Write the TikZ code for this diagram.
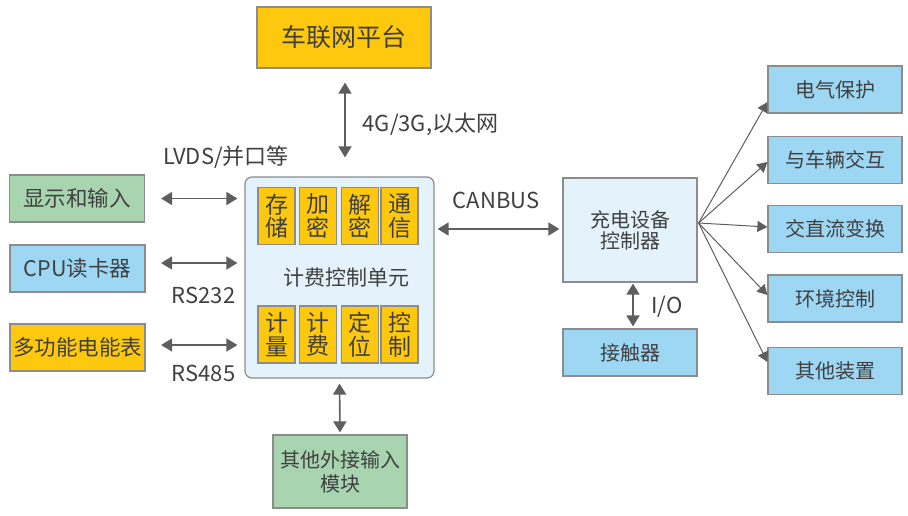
\documentclass[tikz,border=0pt]{standalone}
\usepackage{fontspec}
\setmainfont{Noto Sans CJK SC}
\usetikzlibrary{arrows.meta}
\definecolor{cyel}{HTML}{FDC80E}
\definecolor{cgrn}{HTML}{A8D5B0}
\definecolor{cblu}{HTML}{9DD7F4}
\definecolor{clbl}{HTML}{E4F3FB}
\definecolor{cbrd}{HTML}{8C8C8C}
\definecolor{ctxt}{HTML}{404040}
\definecolor{carr}{HTML}{5E5E5E}
\tikzset{
  box/.style={draw=cbrd, line width=1.2pt, inner sep=0pt, text=ctxt, align=center},
  sbox/.style={box, fill=cyel, minimum width=37pt, minimum height=57pt, font=\fontsize{23}{23.5}\selectfont},
  rbox/.style={box, fill=cblu, minimum width=134pt, minimum height=47pt, font=\fontsize{20}{21}\selectfont},
  lbox/.style={box, minimum width=135pt, minimum height=47pt, font=\fontsize{21.5}{22}\selectfont},
  lab/.style={text=ctxt, font=\fontsize{22}{24}\selectfont, inner sep=0pt},
  darr/.style={carr, line width=1.6pt, {Triangle[width=13pt,length=11pt]}-{Triangle[width=13pt,length=11pt]}},
  farr/.style={carr, line width=1pt, -{Triangle[width=11pt,length=10pt]}}
}
\begin{document}
\begin{tikzpicture}[x=1pt,y=-1pt]
\useasboundingbox (0,0) rectangle (908,515);
% top platform
\node[box, fill=cyel, minimum width=174pt, minimum height=61pt, font=\fontsize{25}{27}\selectfont] (plat) at (344,37.5) {车联网平台};
% central unit
\node[box, fill=clbl, rounded corners=7pt, minimum width=189pt, minimum height=201pt] (cu) at (339.5,277.5) {};
\node[lab, font=\fontsize{21}{22}\selectfont] (cul) at (346,278) {计费控制单元};
\node[sbox] (s1) at (276.5,216) {存\\储};
\node[sbox] (s2) at (318,216) {加\\密};
\node[sbox] (s3) at (360,216) {解\\密};
\node[sbox] (s4) at (399.5,216) {通\\信};
\node[sbox] (b1) at (276.5,334.5) {计\\量};
\node[sbox] (b2) at (318,334.5) {计\\费};
\node[sbox] (b3) at (360,334.5) {定\\位};
\node[sbox] (b4) at (399.5,334.5) {控\\制};
% left boxes
\node[lbox, fill=cgrn] (disp) at (77,198.5) {显示和输入};
\node[lbox, fill=cblu] (cpu) at (77.5,268.5) {CPU读卡器};
\node[lbox, fill=cyel] (meter) at (77.5,347.5) {多功能电能表};
% bottom
\node[box, fill=cgrn, minimum width=134pt, minimum height=73pt, font=\fontsize{20}{24}\selectfont] (ext) at (340,471.5) {其他外接输入\\模块};
% charging controller
\node[box, fill=clbl, minimum width=134pt, minimum height=104pt, font=\fontsize{20}{21}\selectfont] (ctrl) at (630,230) {充电设备\\控制器};
\node[rbox] (cont) at (630,352.5) {接触器};
% right boxes
\node[rbox] (r1) at (835,89.5) {电气保护};
\node[rbox] (r2) at (835,160) {与车辆交互};
\node[rbox] (r3) at (835,229) {交直流变换};
\node[rbox] (r4) at (835,298.5) {环境控制};
\node[rbox] (r5) at (835,371) {其他装置};
% labels
\node[lab] (l4g) at (430.5,124) {4G/3G,以太网};
\node[lab] (llv) at (226,157) {LVDS/并口等};
\node[lab] (l232) at (203.5,295) {RS232};
\node[lab] (l485) at (203.5,373) {RS485};
\node[lab] (lcan) at (496,200) {CANBUS};
\node[lab] (lio) at (667,307) {I/O};
% connectors
\draw[darr, shorten <=14pt, shorten >=19pt] ([xshift=1pt]plat.south) -- ([xshift=5.5pt]cu.north);
\draw[darr, shorten <=16pt, shorten >=7pt] (disp.east) -- (disp.east -| cu.west);
\draw[darr, shorten <=15.5pt, shorten >=7pt] ([yshift=5.5pt]cpu.east) -- ([yshift=5.5pt]cpu.east -| cu.west);
\draw[darr, shorten <=15.5pt, shorten >=7pt] ([yshift=2.5pt]meter.east) -- ([yshift=2.5pt]meter.east -| cu.west);
\draw[darr, shorten <=3pt, shorten >=3pt] ([yshift=1pt]ctrl.west -| cu.east) -- ([yshift=1pt]ctrl.west);
\draw[darr, shorten <=1pt, shorten >=2pt] ([xshift=3pt]ctrl.south) -- ([xshift=3pt]cont.north);
\draw[darr, shorten <=5pt, shorten >=2pt] (cu.south) -- (ext.north);
\coordinate (fan) at ([yshift=7pt,xshift=1pt]ctrl.east);
\draw[farr] (fan) -- ([yshift=-12.5pt]r1.west);
\draw[farr] (fan) -- ([yshift=-2pt]r2.west);
\draw[farr] (fan) -- ([yshift=2pt]r3.west);
\draw[farr] (fan) -- ([yshift=3.5pt]r4.west);
\draw[farr] (fan) -- ([yshift=9pt]r5.west);
\end{tikzpicture}
\end{document}
